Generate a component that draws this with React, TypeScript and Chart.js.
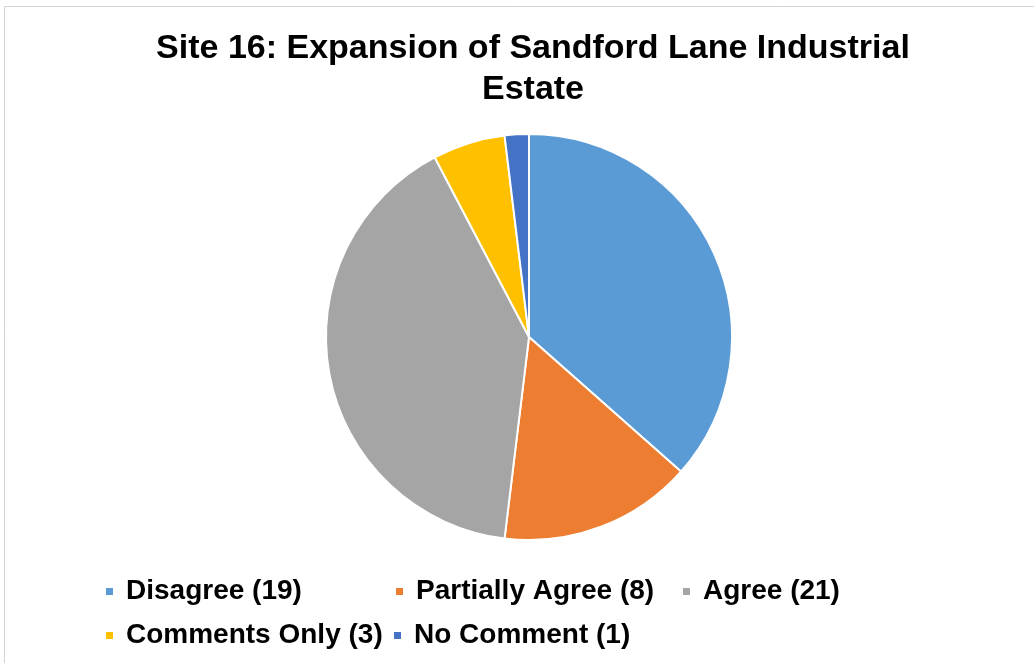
import React, { useEffect, useRef } from "react";
import { Chart, registerables } from "chart.js";

Chart.register(...registerables);

const titleLines = ["Site 16: Expansion of Sandford Lane Industrial", "Estate"];
const categories = ["Disagree", "Partially Agree", "Agree", "Comments Only", "No Comment"];
const counts = [19, 8, 21, 3, 1];
const colors = ["#5B9BD5", "#ED7D31", "#A5A5A5", "#FFC000", "#4472C4"];

// legend grid slot positions (row, x of marker)
const legendSlots = [
  { row: 0, x: 106 },
  { row: 0, x: 396 },
  { row: 0, x: 683 },
  { row: 1, x: 106 },
  { row: 1, x: 394 },
];

const FONT = '"Liberation Sans", Arial, sans-serif';

const decorPlugin = {
  id: "decor",
  afterDraw(chart: any) {
    const ctx = chart.ctx as CanvasRenderingContext2D;
    ctx.save();
    // frame
    ctx.strokeStyle = "#d4d4d4";
    ctx.lineWidth = 1;
    ctx.beginPath();
    ctx.moveTo(4.5, 663);
    ctx.lineTo(4.5, 6.5);
    ctx.lineTo(1034, 6.5);
    ctx.stroke();

    // title
    ctx.fillStyle = "#000000";
    ctx.font = `bold 34px ${FONT}`;
    ctx.textAlign = "center";
    ctx.textBaseline = "alphabetic";
    titleLines.forEach((t, i) => ctx.fillText(t, 533, 58 + i * 41));

    // legend
    ctx.font = `bold 28px ${FONT}`;
    ctx.textAlign = "left";
    ctx.textBaseline = "middle";
    categories.forEach((c, i) => {
      const s = legendSlots[i];
      const cy = 591 + s.row * 44;
      ctx.fillStyle = colors[i];
      ctx.fillRect(s.x, cy - 3, 7, 7);
      ctx.fillStyle = "#000000";
      ctx.fillText(`${c} (${counts[i]})`, s.x + 20, cy);
    });
    ctx.restore();
  },
};

export default function App() {
  const ref = useRef<HTMLCanvasElement>(null);
  useEffect(() => {
    if (!ref.current) return;
    const chart = new Chart(ref.current, {
      type: "pie",
      data: {
        labels: categories,
        datasets: [
          {
            data: counts,
            backgroundColor: colors,
            borderColor: "#ffffff",
            borderWidth: 2,
          },
        ],
      },
      options: {
        responsive: false,
        animation: false,
        layout: { padding: { top: 133, bottom: 122, left: 325, right: 301 } },
        plugins: {
          legend: { display: false },
          title: { display: false },
          tooltip: { enabled: false },
        },
      },
      plugins: [decorPlugin],
    });
    return () => chart.destroy();
  }, []);
  return (
    <div style={{ position: "absolute", left: 0, top: 0, width: 1034, height: 663, background: "#ffffff" }}>
      <canvas ref={ref} width={1034} height={663} style={{ width: 1034, height: 663 }} />
    </div>
  );
}
